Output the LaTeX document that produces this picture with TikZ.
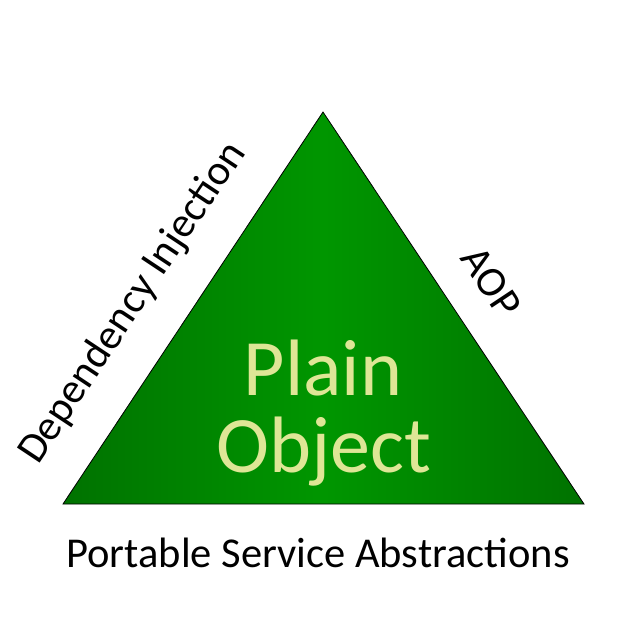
\documentclass[tikz,border=0pt]{standalone}
\usepackage{fontspec}
\setmainfont{Carlito}
\definecolor{gdark}{RGB}{0,78,0}
\definecolor{gmid}{RGB}{0,150,0}
\definecolor{txtyel}{RGB}{222,230,150}
\pgfdeclarehorizontalshading{trishade}{100bp}{color(0bp)=(gdark); color(50bp)=(gmid); color(100bp)=(gdark)}
\tikzset{
  lbl/.style={font=\fontsize{42.5}{44}\selectfont, text=black, inner sep=0pt},
  big/.style={font=\fontsize{80}{84}\selectfont, text=txtyel, align=center, inner sep=0pt}
}
\begin{document}
\begin{tikzpicture}[x=1pt,y=-1pt]
\useasboundingbox (0,0) rectangle (635,635);
\coordinate (apex) at (323,112);
\coordinate (bl) at (63,504);
\coordinate (br) at (584,504);
\shade[shading=trishade, draw=black, line width=0.8pt] (apex) -- (br) -- (bl) -- cycle;
\node[big] (plain) at (323,368) {Plain};
\node[big] (obj) at (324,452) {Object};
\node[lbl] (psa) at (318,553) {Portable Service Abstractions};
\node[lbl, rotate=56.4] (di) at (133,303) {Dependency Injection};
\node[lbl, rotate=-56.4] (aop) at (491,282) {AOP};
\end{tikzpicture}
\end{document}
